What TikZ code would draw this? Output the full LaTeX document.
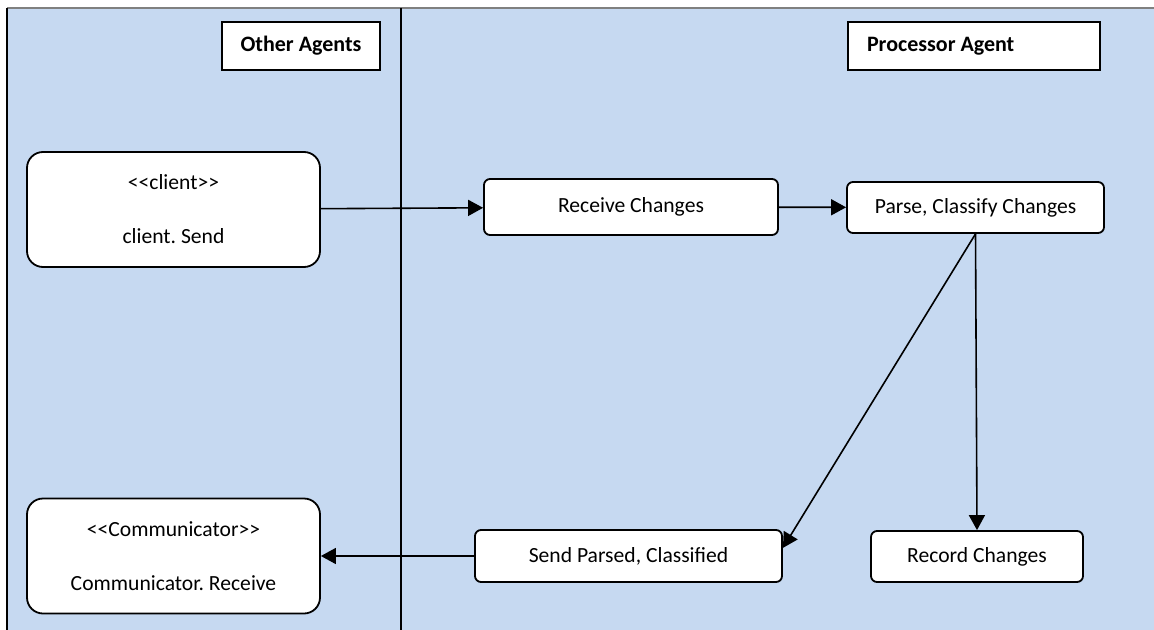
\documentclass[tikz,border=0pt]{standalone}
\usepackage{fontspec}
\setmainfont{Carlito}
\usetikzlibrary{arrows.meta}
\definecolor{lane}{RGB}{198,217,241}
\frenchspacing

\begin{document}
\begin{tikzpicture}[x=0.5pt, y=-0.5pt, font=\fontsize{10.8pt}{13pt}\selectfont]
		\tikzstyle {title} = [draw, fill=white, line width=1pt, font=\fontsize{11pt}{13pt}\selectfont\bfseries, minimum height=24pt, inner sep=0pt]
		\tikzstyle {step box} = [draw, fill=white, line width=0.9pt, rounded corners=3pt, minimum height=26pt, inner sep=0pt]
		\tikzstyle {class box} = [draw, fill=white, line width=0.9pt, rounded corners=8pt, minimum width=146.5pt, minimum height=57.5pt, align=center, inner sep=0pt]
		\tikzstyle {flow} = [line width=0.8pt, -{Triangle[length=7.5pt, width=8pt]}]

		\useasboundingbox (0, 0) rectangle (1154, 630);
		\fill[lane] (7, 8) rectangle (1154, 630);
		\draw[gray, line width=1pt] (7, 8) -- (1154, 8);
		\draw[line width=0.7pt] (7, 8) -- (7, 630);
		\draw[line width=0.7pt] (401, 8) -- (401, 630);

		\node[title, minimum width=79pt] (other) at (301, 46) {Other Agents};
		\node[title, minimum width=126pt, text width=107pt, align=flush left] (proc) at (974, 46) {Processor Agent};

		\node[class box] (client) at (173.5, 209.5) {{<}{<}client{>}{>}\\[14pt]client. Send};
		\node[class box] (comm) at (173.5, 556) {{<}{<}Communicator{>}{>}\\[14pt]Communicator. Receive};

		\node[step box, minimum width=147pt, minimum height=28pt] (recv) at (631, 207) {Receive Changes};
		\node[step box, minimum width=128.5pt, minimum height=25.5pt] (parse) at (975.5, 207.5) {Parse, Classify Changes};
		\node[step box, minimum width=153.5pt] (send) at (628.5, 556) {Send Parsed, Classified};
		\node[step box, minimum width=106pt, minimum height=25.5pt] (record) at (977, 556.5) {Record Changes};

		\draw[flow] (client) -- (recv);
		\draw[flow] (recv) -- (parse);
		\draw[flow] (parse.south) -- (record.north);
		\draw[flow] (parse.south) -- (send.3);
		\draw[flow] (send) -- (comm);
\end{tikzpicture}
\end{document}
